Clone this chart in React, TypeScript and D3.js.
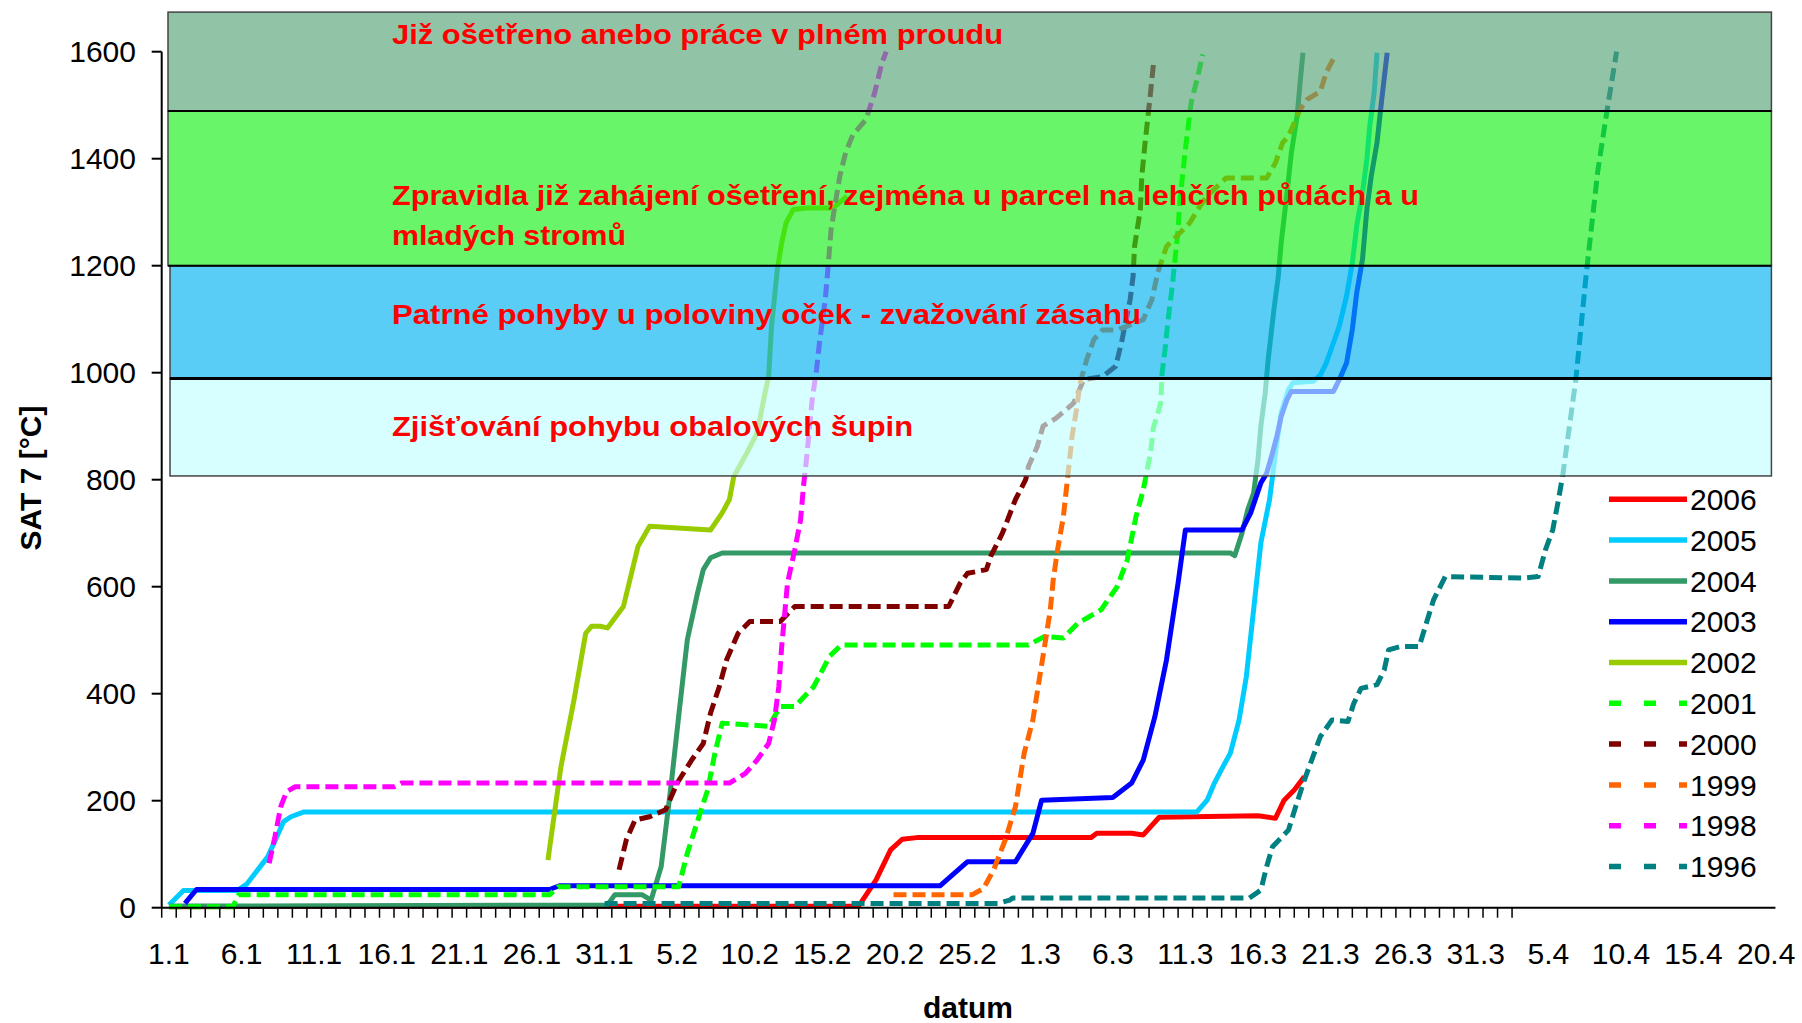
import React from "react";
import * as d3 from "d3";

const W = 1802;
const H = 1023;

// ---------- axis data ----------
const categoryLabels = ["1.1","6.1","11.1","16.1","21.1","26.1","31.1","5.2","10.2","15.2","20.2","25.2","1.3","6.3","11.3","16.3","21.3","26.3","31.3","5.4","10.4","15.4","20.4"];
const labelStep = 5;
const categoryCount = 111;
const tickedCategories = 93;
const yTicks = [0, 200, 400, 600, 800, 1000, 1200, 1400, 1600];

// ---------- series ----------
const seriesNames = ["2006","2005","2004","2003","2002","2001","2000","1999","1998","1996"];
const seriesColors = ["#FF0000","#00CCFF","#339966","#0000FF","#99CC00","#00FF00","#800000","#FF6600","#FF00FF","#008080"];
const seriesDashed = [false,false,false,false,false,true,true,true,true,true];

const days2006 = [0,47.5,48.7,49.7,50.5,51.5,63.5,63.9,66.3,67.1,68.2,75.0,76.2,76.8,77.5,78.2];
const sat2006 = [2,3,52,108,128,131,131,139,139,136,169,172,167,201,220,245];

const days2005 = [0,1.0,4.7,5.35,6.8,7.9,8.4,9.3,70.8,71.5,72.0,72.6,73.1,73.7,74.2,74.7,75.2,75.8,76.3,76.6,77.1,77.4,78.8,79.3,79.7,80.2,80.6,81.1,81.5,81.8,82.2,82.5,82.7,83.0,83.2];
const sat2005 = [5,32,32,44,95,161,170,179,179,201,233,264,289,351,432,557,682,763,869,925,968,981,984,996,1018,1056,1087,1143,1205,1274,1336,1399,1461,1523,1598];

const days2004 = [0,30.2,30.7,32.6,33.2,33.9,34.6,35.1,35.7,36.4,36.8,37.3,38.1,73.1,73.4,73.9,74.3,74.7,75.0,75.2,75.5,75.7,76.1,76.4,76.6,77.0,77.3,77.7,77.9,78.1];
const sat2004 = [3,5,24,24,14,77,233,357,501,588,632,654,663,663,658,700,744,775,837,900,962,1024,1118,1180,1243,1336,1411,1480,1542,1598];

const days2003 = [1.1,1.9,26.2,26.9,53.1,55.0,58.3,59.5,60.1,65.0,66.3,67.1,67.9,68.7,69.5,70.0,73.9,74.5,75.2,75.6,76.0,76.3,76.6,77.0,77.3,80.2,80.6,81.1,81.5,81.8,82.2,82.5,82.8,83.2,83.5,83.9];
const sat2003 = [8,34,34,41,41,86,86,139,201,206,233,276,357,463,607,706,706,738,794,812,850,881,918,950,965,965,987,1018,1081,1149,1212,1305,1367,1430,1505,1598];

const days2002 = [26.1,27.0,27.9,28.7,29.1,29.7,30.2,31.3,32.3,33.1,37.3,38.1,38.6,38.9,39.8,40.5,41.05,41.3,41.5,41.9,42.2,42.5,43.0,43.9,45.75,46.7];
const sat2002 = [89,264,389,513,526,526,523,563,675,713,706,738,763,806,850,887,962,993,1087,1193,1243,1280,1305,1308,1308,1330];

const days2001 = [0,4.4,4.8,26.2,26.8,35.1,35.7,36.5,37.1,37.6,38.1,41.3,42.1,43.1,44.4,45.5,46.3,59.2,60.3,61.6,62.6,63.2,64.2,65.3,66.0,66.6,67.1,67.6,67.8,68.3,68.4,68.6,68.8,69.1,69.3,69.5,69.6,69.8,70.0,70.2,70.4,70.8,71.2];
const sat2001 = [2,2,24,24,39,39,102,170,220,289,345,339,376,376,413,470,491,491,507,504,532,541,557,600,650,731,781,850,897,943,1000,1043,1096,1162,1215,1268,1311,1367,1417,1461,1505,1548,1595];

const days2000 = [31.0,31.5,32.1,33.1,34.2,35.0,36.0,36.8,37.3,37.9,38.4,39.2,40.0,42.1,43.1,53.7,54.5,55.0,56.3,56.6,57.4,58.3,59.0,59.2,59.8,60.2,61.1,62.3,63.0,64.3,65.2,65.6,66.2,66.4,66.5,66.9,67.0,67.2,67.4,67.6,67.8];
const sat2000 = [71,127,164,170,183,233,276,307,364,413,463,513,535,535,563,563,607,625,632,657,700,763,800,825,862,900,915,943,987,993,1012,1056,1137,1180,1236,1305,1367,1423,1473,1523,1576];

const days1999 = [49.9,55.3,56.1,56.8,57.6,58.3,58.9,59.5,59.9,60.3,60.7,60.9,61.2,61.6,62.0,62.2,62.5,62.75,63.2,63.7,64.3,65.3,66.0,67.1,67.7,68.1,68.7,69.4,70.3,71.0,71.5,72.8,75.6,76.2,76.7,77.1,77.9,78.4,79.3,79.7,80.3];
const sat1999 = [24,24,36,71,127,189,289,351,420,488,557,613,669,731,831,881,931,981,1024,1062,1080,1080,1087,1099,1137,1187,1236,1255,1280,1311,1330,1364,1364,1392,1430,1442,1492,1511,1526,1561,1592];

const days1998 = [6.9,7.3,7.7,8.1,8.7,15.5,16.0,38.6,39.7,40.5,41.3,41.7,42.0,42.2,42.6,43.1,43.5,43.7,43.9,44.3,44.6,44.8,45.2,45.4,45.6,45.9,46.2,46.6,47.1,48.0,48.6,49.1,49.4];
const sat1998 = [83,133,189,217,226,226,233,233,251,276,307,351,413,488,607,669,725,788,837,950,1006,1056,1137,1199,1268,1318,1367,1411,1445,1473,1523,1579,1600];

const days1996 = [30.0,57.1,57.9,58.1,74.4,75.2,75.6,76.0,77.1,77.6,78.2,78.7,79.3,80.1,81.2,81.6,82.1,83.2,83.7,84.0,84.8,86.1,86.6,87.1,87.9,93.2,94.3,94.8,95.3,95.7,96.0,96.9,97.6,98.4,99.0,99.7];
const sat1996 = [8,8,14,18,18,33,77,114,145,189,239,276,320,351,348,382,410,417,445,482,488,488,532,576,619,616,619,669,706,763,810,989,1182,1376,1483,1600];

const seriesDays = [days2006,days2005,days2004,days2003,days2002,days2001,days2000,days1999,days1998,days1996];
const seriesValues = [sat2006,sat2005,sat2004,sat2003,sat2002,sat2001,sat2000,sat1999,sat1998,sat1996];

// ---------- zones ----------
const bandLow = [1489, 1200, 989, 807];
const bandHigh = [1674, 1489, 1200, 989];
const bandColors = ["#56a578", "#18f018", "#00b2f0", "#c1ffff"];
const bandTexts = [
  ["Již ošetřeno anebo práce v plném proudu"],
  ["Zpravidla již zahájení ošetření, zejména u parcel na lehčích půdách a u", "mladých stromů"],
  ["Patrné pohyby u poloviny oček - zvažování zásahu"],
  ["Zjišťování pohybu obalových šupin"],
];
const bandTextLengths = [[611], [1027, 234], [749], [521]];
const bandTextBaselines = [[44], [205, 245], [324], [436]];

const FONT = "'Liberation Sans', Arial, Helvetica, sans-serif";

export default function App() {
  const plotLeft = 161.7;
  const dayWidth = 14.52;
  const x = d3.scaleLinear().domain([-0.5, categoryCount - 0.5]).range([plotLeft, plotLeft + categoryCount * dayWidth]);
  const y = d3.scaleLinear().domain([0, 1600]).range([907.7, 51.7]);

  const line = d3.line<[number, number]>().x((d) => x(d[0])).y((d) => y(d[1]));

  const xTickPositions = d3.range(0, tickedCategories + 1).map((k) => x(k - 0.5));
  const bandLeft = [168, 168, 170, 170];
  const bandRight = x(categoryCount - 0.5) - 2;

  const legendX1 = 1609;
  const legendX2 = 1687;
  const legendY0 = 499.3;
  const legendStep = 40.8;

  return (
    <svg width={W} height={H} style={{ position: "absolute", left: 0, top: 0, background: "#fff" }} fontFamily={FONT}>
      <rect x={0} y={0} width={W} height={H} fill="#fff" />

      {/* series lines */}
      {seriesNames.map((name, i) => {
        const pts = seriesDays[i].map((d, j) => [d, seriesValues[i][j]] as [number, number]);
        return (
          <path
            key={name}
            d={line(pts) || ""}
            fill="none"
            stroke={seriesColors[i]}
            strokeWidth={5}
            strokeDasharray={seriesDashed[i] ? "13,6" : undefined}
            strokeLinejoin="round"
          />
        );
      })}

      {/* zone bands over the lines */}
      {bandColors.map((c, i) => (
        <rect
          key={"band" + i}
          x={bandLeft[i]}
          y={y(bandHigh[i])}
          width={bandRight - bandLeft[i]}
          height={y(bandLow[i]) - y(bandHigh[i])}
          fill={c}
          fillOpacity={0.65}
          stroke="#444"
          strokeWidth={1.5}
        />
      ))}
      {bandLow.slice(0, 3).map((v, i) => (
        <line
          key={"bl" + i}
          x1={bandLeft[i]}
          x2={bandRight}
          y1={y(v)}
          y2={y(v)}
          stroke="#000"
          strokeWidth={i === 2 ? 3 : 2}
        />
      ))}
      {bandTexts.map((lines, i) =>
        lines.map((t, j) => (
          <text
            key={"bt" + i + "_" + j}
            x={392}
            y={bandTextBaselines[i][j]}
            fontSize={27}
            fontWeight="bold"
            fill="#FF0000"
            textLength={bandTextLengths[i][j]}
            lengthAdjust="spacingAndGlyphs"
          >
            {t}
          </text>
        ))
      )}

      {/* y axis */}
      <line x1={plotLeft} x2={plotLeft} y1={y(0)} y2={y(1600)} stroke="#000" strokeWidth={2} />
      {yTicks.map((v) => (
        <g key={"yt" + v}>
          <line x1={plotLeft - 10} x2={plotLeft} y1={y(v)} y2={y(v)} stroke="#000" strokeWidth={2} />
          <text x={136} y={y(v) + 10.7} textAnchor="end" fontSize={30} fill="#000">
            {v}
          </text>
        </g>
      ))}

      {/* x axis */}
      <line x1={plotLeft} x2={x(categoryCount - 0.5) + 2} y1={y(0)} y2={y(0)} stroke="#000" strokeWidth={2} />
      {xTickPositions.map((px, k) => (
        <line key={"xt" + k} x1={px} x2={px} y1={y(0)} y2={y(0) + 10} stroke="#000" strokeWidth={1.5} />
      ))}
      {categoryLabels.map((lab, i) => (
        <text key={"xl" + i} x={x(i * labelStep)} y={963.5} textAnchor="middle" fontSize={30} fill="#000">
          {lab}
        </text>
      ))}

      {/* axis titles */}
      <text x={968} y={1018} textAnchor="middle" fontSize={30} fontWeight="bold" fill="#000">
        datum
      </text>
      <text transform="translate(41,478) rotate(-90)" textAnchor="middle" fontSize={30} fontWeight="bold" fill="#000">
        SAT 7 [°C]
      </text>

      {/* legend */}
      {seriesNames.map((name, i) => {
        const ly = legendY0 + i * legendStep;
        return (
          <g key={"lg" + name}>
            <line
              x1={legendX1}
              x2={legendX2}
              y1={ly}
              y2={ly}
              stroke={seriesColors[i]}
              strokeWidth={5.5}
              strokeDasharray={seriesDashed[i] ? "12,23" : undefined}
            />
            <text x={1690} y={ly + 10.7} fontSize={30} fill="#000">
              {name}
            </text>
          </g>
        );
      })}
    </svg>
  );
}
